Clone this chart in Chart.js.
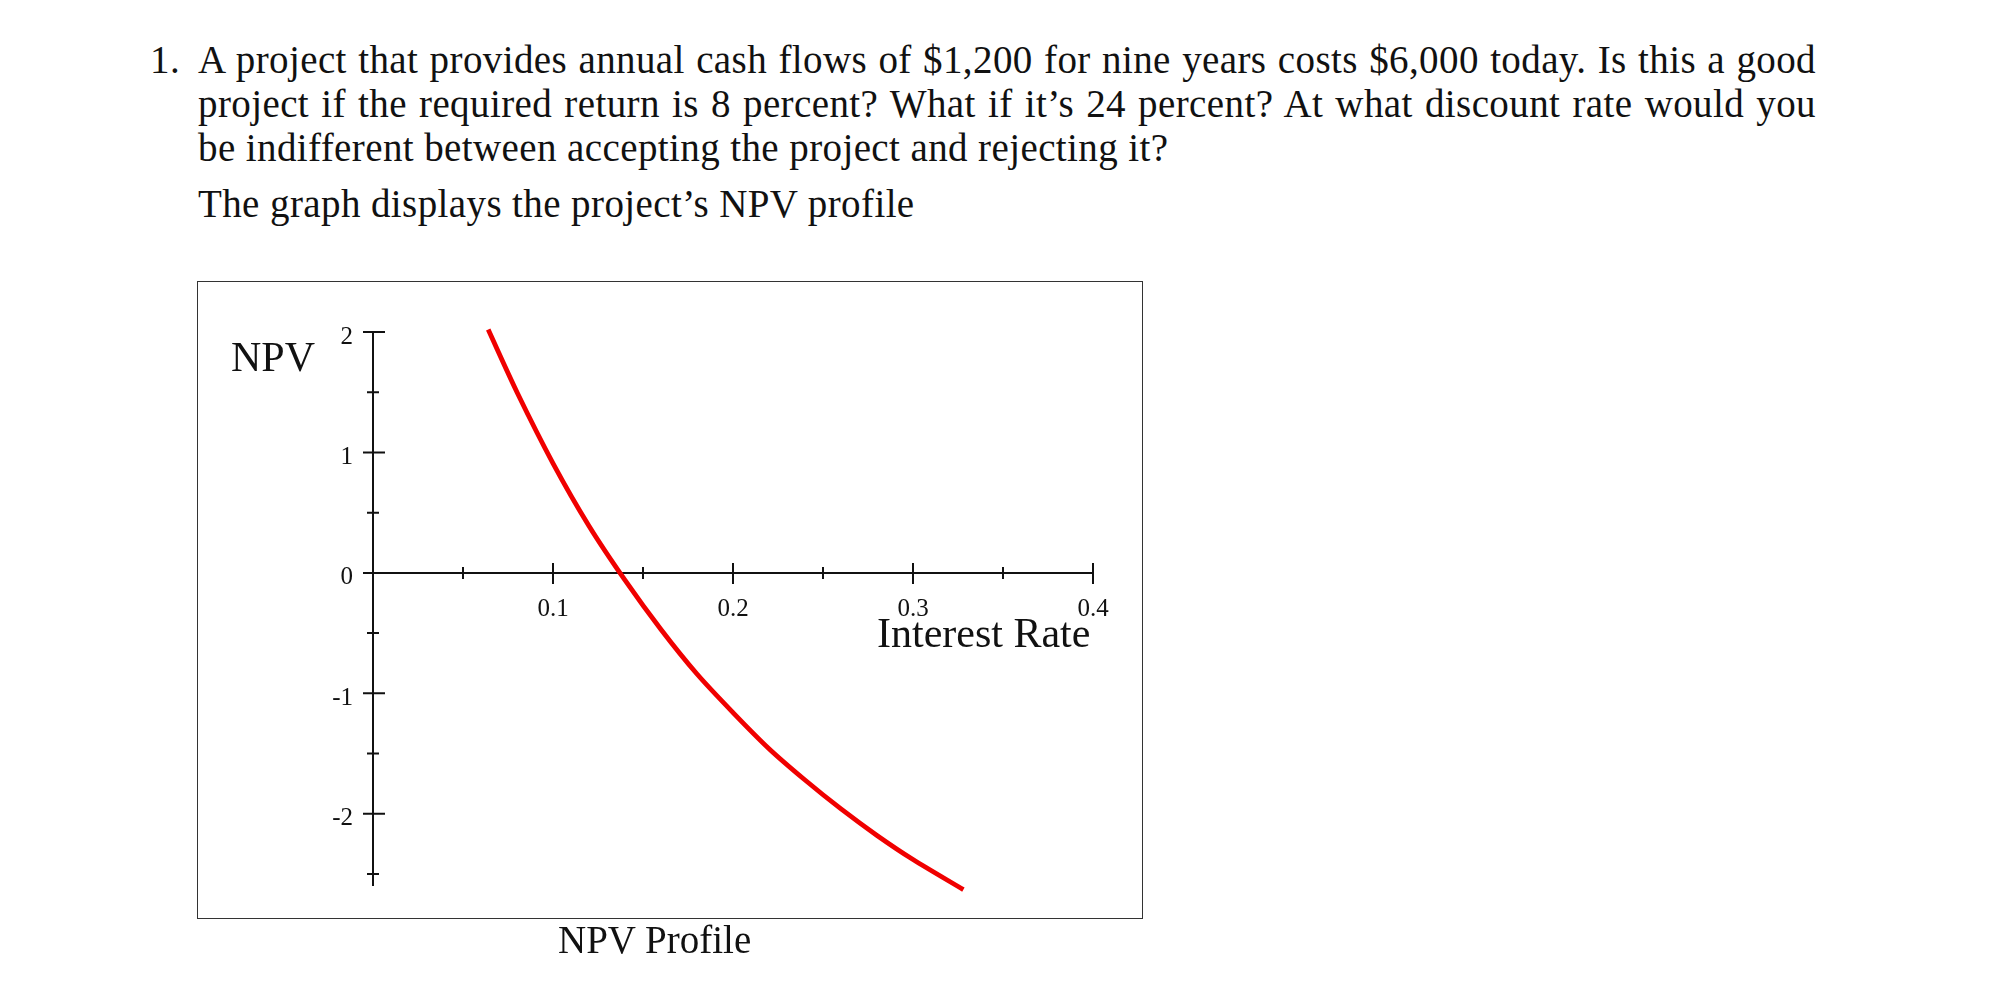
<!DOCTYPE html>
<html>
<head>
<meta charset="utf-8">
<script src="https://cdn.jsdelivr.net/npm/chart.js@4.4.1/dist/chart.umd.min.js"></script>
<style>
  body { margin: 0; background: #fff; width: 1995px; height: 1000px; position: relative; overflow: hidden; }
  .txt { position: absolute; font-family: "Liberation Serif", serif; color: #111; white-space: nowrap; }
  .para { font-size: 39px; line-height: 44px; letter-spacing: 0.4px; }
  .just { text-align: justify; text-align-last: justify; width: 1618px; }
  #frame { position: absolute; left: 197px; top: 281px; width: 946px; height: 638px; box-sizing: border-box; border: 1.5px solid #333; }
  #npvChart { position: absolute; left: 197px; top: 281px; }
</style>
</head>
<body>

<!-- question text -->
<div class="txt para" style="left:150px; top:38px;">1.</div>
<div class="txt para just" style="left:198px; top:38px;">A project that provides annual cash flows of $1,200 for nine years costs $6,000 today. Is this a good</div>
<div class="txt para just" style="left:198px; top:82px;">project if the required return is 8 percent? What if it’s 24 percent? At what discount rate would you</div>
<div class="txt para" style="left:198px; top:126px;">be indifferent between accepting the project and rejecting it?</div>
<div class="txt para" style="left:198px; top:182px;">The graph displays the project’s NPV profile</div>

<!-- chart -->
<canvas id="npvChart" width="946" height="638"></canvas>
<div id="frame"></div>
<div class="txt" style="left:231px; top:336px; font-size:42px; line-height:42px;">NPV</div>
<div class="txt" style="left:877px; top:612px; font-size:42px; line-height:42px;">Interest Rate</div>
<div class="txt" style="left:558px; top:918px; font-size:39px; line-height:44px;">NPV Profile</div>

<script>
// NPV profile (NPV in thousands of $)
const rates = [0.064, 0.08, 0.10, 0.12, 0.14, 0.16, 0.18, 0.20, 0.22, 0.24, 0.26, 0.28, 0.30, 0.328];
const npv = [2.02, 1.50, 0.91, 0.39, -0.06, -0.47, -0.84, -1.16, -1.46, -1.72, -1.96, -2.18, -2.38, -2.63];

// axis ticks
const xTicks = [0.1, 0.2, 0.3, 0.4];
const xTickLabels = ['0.1', '0.2', '0.3', '0.4'];
const xMinorTicks = [0.05, 0.15, 0.25, 0.35];
const yTicks = [2, 1, 0, -1, -2];
const yTickLabels = ['2', '1', '0', '-1', '-2'];
const yMinorTicks = [1.5, 0.5, -0.5, -1.5, -2.5];

// draws the crossing axes with ticks on both sides, like the original plot
const crossAxes = {
  id: 'crossAxes',
  beforeDatasetsDraw(chart) {
    const ctx = chart.ctx;
    const xs = chart.scales.x;
    const ys = chart.scales.y;
    const x0 = xs.getPixelForValue(0);
    const y0 = ys.getPixelForValue(0);

    ctx.save();
    ctx.strokeStyle = '#111';
    ctx.lineWidth = 2;
    ctx.beginPath();
    // x axis
    ctx.moveTo(x0, y0);
    ctx.lineTo(xs.getPixelForValue(0.4), y0);
    // y axis
    ctx.moveTo(x0, ys.getPixelForValue(2));
    ctx.lineTo(x0, ys.getPixelForValue(-2.6));

    xTicks.forEach(v => {
      const px = xs.getPixelForValue(v);
      ctx.moveTo(px, y0 - 10);
      ctx.lineTo(px, y0 + 11);
    });
    xMinorTicks.forEach(v => {
      const px = xs.getPixelForValue(v);
      ctx.moveTo(px, y0 - 6);
      ctx.lineTo(px, y0 + 6);
    });
    yTicks.forEach(v => {
      const py = ys.getPixelForValue(v);
      ctx.moveTo(x0 - 10, py);
      ctx.lineTo(x0 + 12, py);
    });
    yMinorTicks.forEach(v => {
      const py = ys.getPixelForValue(v);
      ctx.moveTo(x0 - 6, py);
      ctx.lineTo(x0 + 6, py);
    });
    ctx.stroke();

    // tick labels
    ctx.fillStyle = '#111';
    ctx.font = '25px "Liberation Serif"';
    ctx.textBaseline = 'middle';
    ctx.textAlign = 'center';
    xTicks.forEach((v, i) => {
      ctx.fillText(xTickLabels[i], xs.getPixelForValue(v), y0 + 37);
    });
    ctx.textAlign = 'right';
    yTicks.forEach((v, i) => {
      ctx.fillText(yTickLabels[i], x0 - 20, ys.getPixelForValue(v) + 5);
    });
    ctx.restore();
  }
};

const npvCanvas = document.getElementById('npvChart');

let npvChart = new Chart(npvCanvas, {
  type: 'line',
  data: {
    datasets: [{
      data: rates.map((r, i) => ({ x: r, y: npv[i] })),
      borderColor: 'rgb(240, 0, 0)',
      borderWidth: 4.8,
      pointRadius: 0,
      tension: 0.3,
      clip: false,
      fill: false
    }]
  },
  options: {
    responsive: false,
    animation: false,
    layout: {
      padding: { left: 176, right: 50, top: 45, bottom: 33 }
    },
    scales: {
      x: { type: 'linear', min: 0, max: 0.4, display: false },
      y: { type: 'linear', min: -2.6, max: 2.05, display: false }
    },
    plugins: {
      legend: { display: false },
      tooltip: { enabled: false }
    }
  },
  plugins: [crossAxes]
});
</script>
</body>
</html>
